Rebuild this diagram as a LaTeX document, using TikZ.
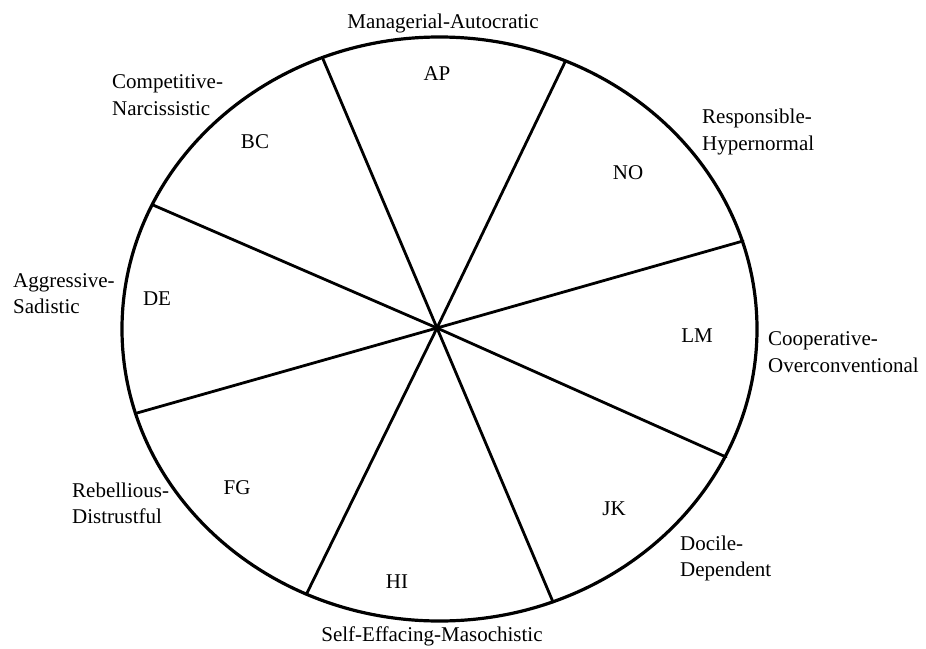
\documentclass[tikz,border=0pt]{standalone}
\usepackage{fontspec}
\setmainfont{Liberation Serif}
\begin{document}
\begin{tikzpicture}[x=1pt,y=-1pt,
  txt/.style={font=\fontsize{21}{26}\selectfont, inner sep=0pt},
  lbl/.style={txt, anchor=base west},
  ttl/.style={txt, anchor=base},
  sec/.style={txt},
  spoke/.style={line width=2.8pt},
  rim/.style={line width=3.2pt}]
\useasboundingbox[fill=white] (0,0) rectangle (926,648);

% outline
\draw[rim] (439.5,329) ellipse [x radius=317.5pt, y radius=292pt];

% hub and spoke ends
\coordinate (hub) at (437,328);
\coordinate (pA) at (323,59);
\coordinate (pB) at (565,62);
\coordinate (pC) at (743,241);
\coordinate (pD) at (726,457);
\coordinate (pE) at (553,602);
\coordinate (pF) at (307,593);
\coordinate (pG) at (137,413);
\coordinate (pH) at (153,205);
\foreach \p in {pA,pB,pC,pD,pE,pF,pG,pH}
  \draw[spoke, line cap=round] (hub) -- (\p);

% sector codes
\node[sec] (ap) at (437,74) {AP};
\node[sec] (bc) at (255,142) {BC};
\node[sec] (no) at (628,173) {NO};
\node[sec] (de) at (157,299) {DE};
\node[sec] (lm) at (697,336) {LM};
\node[sec] (fg) at (237,488) {FG};
\node[sec] (jk) at (614,509) {JK};
\node[sec] (hi) at (397,582) {HI};

% outer labels
\node[ttl] (t1) at (443,28) {Managerial-Autocratic};
\node[ttl] (t2) at (432,641) {Self-Effacing-Masochistic};
\node[lbl] (c1) at (112,88) {Competitive-};
\node[lbl] (c2) at (112,115) {Narcissistic};
\node[lbl] (r1) at (702,123) {Responsible-};
\node[lbl] (r2) at (702,150) {Hypernormal};
\node[lbl] (a1) at (13,287) {Aggressive-};
\node[lbl] (a2) at (13,313) {Sadistic};
\node[lbl] (o1) at (768,345) {Cooperative-};
\node[lbl] (o2) at (768,372) {Overconventional};
\node[lbl] (b1) at (72,497) {Rebellious-};
\node[lbl] (b2) at (72,523) {Distrustful};
\node[lbl] (d1) at (680,550) {Docile-};
\node[lbl] (d2) at (680,576) {Dependent};
\end{tikzpicture}
\end{document}
